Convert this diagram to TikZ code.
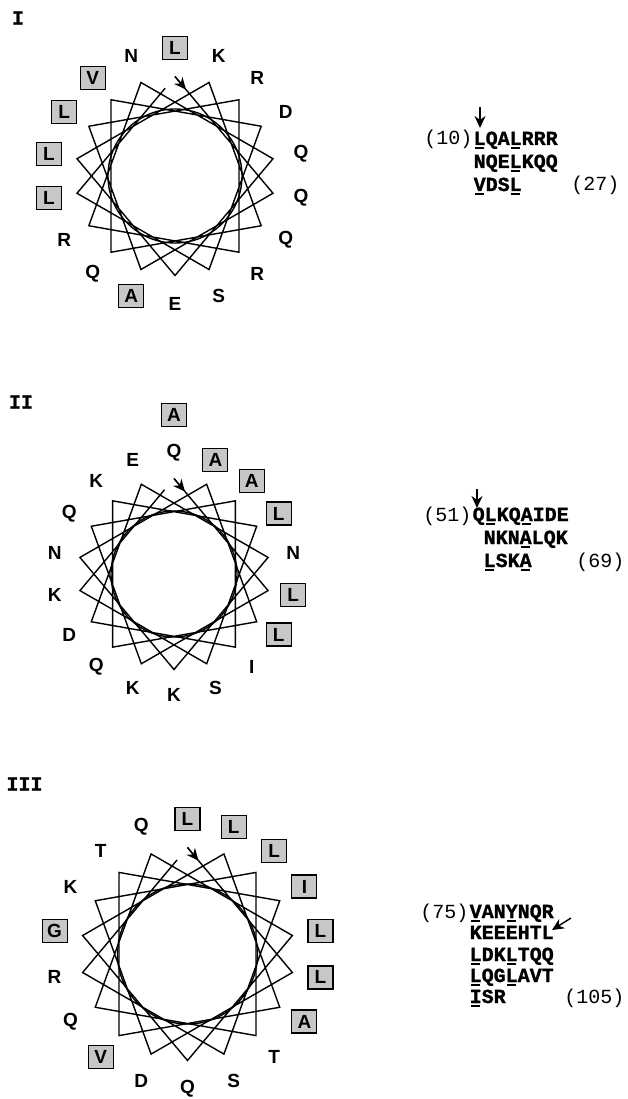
\documentclass[tikz,border=0pt]{standalone}
\usepackage{fontspec}
\setsansfont{Liberation Sans}
\setmonofont{Liberation Mono}[BoldFeatures={FakeBold=1.2}]
\usetikzlibrary{calc, arrows.meta}
\newcommand{\hy}[1]{\rlap{\hspace{0.06em}\rule[-3.8pt]{0.45em}{1.5pt}}#1}
\begin{document}
\begin{tikzpicture}[x=1pt, y=1pt, >={Stealth[length=12pt, width=11pt, inset=4pt]}, line width=1.4pt,
  res/.style={font=\sffamily\bfseries\fontsize{19}{19}\selectfont, inner sep=0pt, minimum width=25pt, minimum height=23pt},
  hres/.style={res, draw, line width=1.1pt, fill=black!22},
  seq/.style={font=\ttfamily\bfseries\fontsize{20}{20}\selectfont, anchor=base west, inner sep=0pt},
  num/.style={font=\ttfamily\fontsize{20}{20}\selectfont, inner sep=0pt},
  title/.style={font=\ttfamily\bfseries\fontsize{20}{20}\selectfont, inner sep=0pt}]
  \useasboundingbox (0,0) rectangle (628,-1099);

  % wheel I
  \coordinate (w1) at (175,-176);
  \node[title] (t1) at (18,-18) {I};
  \foreach \i in {1,...,18} {
    \coordinate (w1-v\i) at ($(w1)+({90-100*(\i-1)}:99.5)$);
  };
  \draw (w1) circle (67);
  \draw (w1-v1) \foreach \i in {2,...,18} {-- (w1-v\i)} -- ($(w1-v18)!0.9!(w1-v1)$);
  \draw[->] (w1-v1) -- ($(w1-v1)!17pt!(w1-v2)$);
  \foreach \i/\aa/\st in {1/L/hres, 2/Q/res, 3/A/hres, 4/L/hres, 5/R/res, 6/R/res, 7/R/res, 8/N/res, 9/Q/res,
      10/E/res, 11/L/hres, 12/K/res, 13/Q/res, 14/Q/res, 15/V/hres, 16/D/res, 17/S/res, 18/L/hres} {
    \node[\st] (w1-r\i) at ($(w1)+({90-100*(\i-1)}:128)$) {\aa};
  };

  \node[num, anchor=base east] (s1-from) at (473,-145) {(10)};
  \node[seq] (s1-l1) at (473,-145) {\hy{L}QA\hy{L}RRR};
  \node[seq] (s1-l2) at (473,-168) {NQE\hy{L}KQQ};
  \node[seq] (s1-l3) at (473,-191) {\hy{V}DS\hy{L}};
  \node[num, anchor=base east] (s1-to) at (620,-191) {(27)};
  \coordinate (s1-a) at (480,-107);
  \coordinate (s1-b) at (480,-128);
  \draw[->] (s1-a) -- (s1-b);

  % wheel II
  \coordinate (w2) at (174,-574);
  \node[title] (t2) at (21,-402) {II};
  \foreach \i in {1,...,18} {
    \coordinate (w2-v\i) at ($(w2)+({90-100*(\i-1)}:95.5)$);
  };
  \draw (w2) circle (63);
  \draw (w2-v1) \foreach \i in {2,...,18} {-- (w2-v\i)} -- ($(w2-v18)!0.9!(w2-v1)$);
  \draw[->] (w2-v1) -- ($(w2-v1)!17pt!(w2-v2)$);
  \foreach \i/\aa/\st in {1/Q/res, 2/L/hres, 3/K/res, 4/Q/res, 5/A/hres, 6/I/res, 7/D/res, 8/E/res, 9/N/res,
      10/K/res, 11/N/res, 12/A/hres, 13/L/hres, 14/Q/res, 15/K/res, 16/L/hres, 17/S/res, 18/K/res} {
    \node[\st] (w2-r\i) at ($(w2)+({90-100*(\i-1)}:121)$) {\aa};
  };
  \node[hres] (w2-r19) at ($(w2)+(90:159)$) {A};

  \node[num, anchor=base east] (s2-from) at (472,-521) {(51)};
  \node[seq] (s2-l1) at (472,-521) {Q\hy{L}KQ\hy{A}IDE};
  \node[seq] (s2-l2) at (483,-544) {NKN\hy{A}LQK};
  \node[seq] (s2-l3) at (483,-567) {\hy{L}SK\hy{A}};
  \node[num, anchor=base east] (s2-to) at (625,-567) {(69)};
  \coordinate (s2-a) at (477,-489);
  \coordinate (s2-b) at (477,-508);
  \draw[->] (s2-a) -- (s2-b);

  % wheel III
  \coordinate (w3) at (187.5,-954);
  \node[title] (t3) at (24.5,-784) {III};
  \foreach \i in {1,...,18} {
    \coordinate (w3-v\i) at ($(w3)+({90-100*(\i-1)}:106.5)$);
  };
  \draw (w3) circle (70);
  \draw (w3-v1) \foreach \i in {2,...,18} {-- (w3-v\i)} -- ($(w3-v18)!0.9!(w3-v1)$);
  \draw[->] (w3-v1) -- ($(w3-v1)!17pt!(w3-v2)$);
  \foreach \i/\aa/\st in {1/L/hres, 2/L/hres, 3/D/res, 4/K/res, 5/L/hres, 6/T/res, 7/Q/res, 8/Q/res, 9/L/hres,
      10/Q/res, 11/G/hres, 12/L/hres, 13/A/hres, 14/V/hres, 15/T/res, 16/I/hres, 17/S/res, 18/R/res} {
    \node[\st] (w3-r\i) at ($(w3)+({90-100*(\i-1)}:135)$) {\aa};
  };

  \node[num, anchor=base east] (s3-from) at (469,-918) {(75)};
  \node[seq] (s3-l1) at (469,-918) {\hy{V}AN\hy{Y}NQR};
  \node[seq] (s3-l2) at (469,-939) {KEEEHTL};
  \node[seq] (s3-l3) at (469,-961) {\hy{L}DK\hy{L}TQQ};
  \node[seq] (s3-l4) at (469,-982) {\hy{L}QG\hy{L}AVT};
  \node[seq] (s3-l5) at (469,-1003) {\hy{I}SR};
  \node[num, anchor=base east] (s3-to) at (625,-1003) {(105)};
  \coordinate (s3-a) at (571,-918);
  \coordinate (s3-b) at (552,-930);
  \draw[->] (s3-a) -- (s3-b);
\end{tikzpicture}
\end{document}
